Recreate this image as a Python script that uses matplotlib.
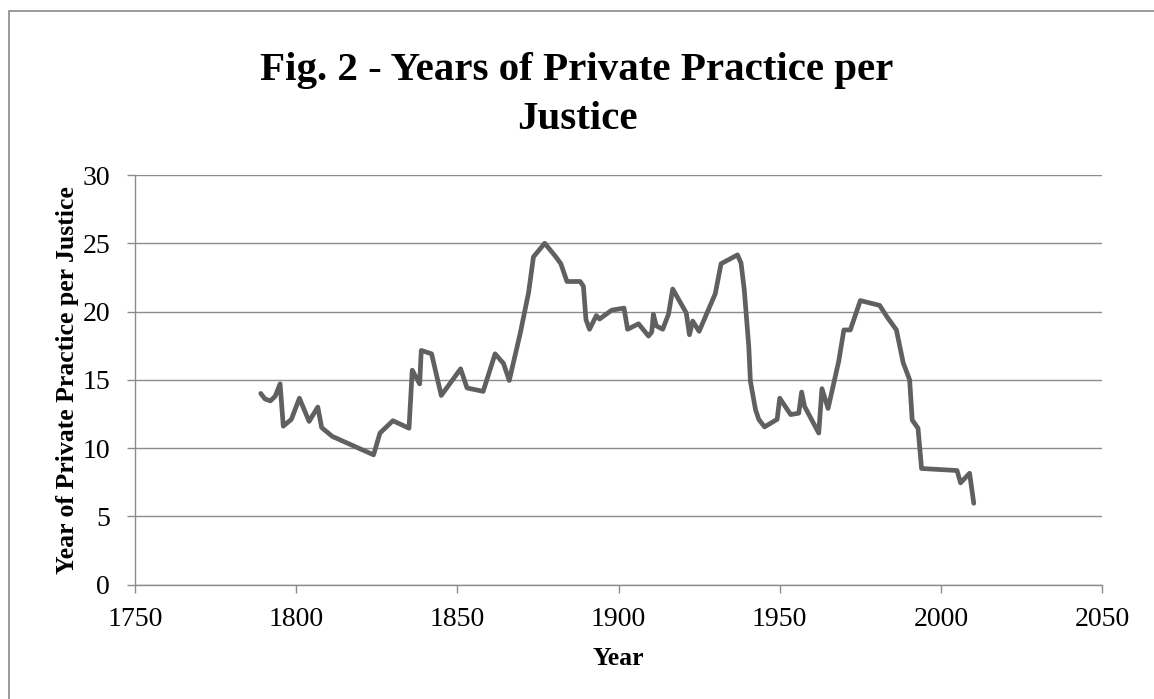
import matplotlib.pyplot as plt
from matplotlib.patches import Rectangle

years = [1789, 1790.3, 1792, 1793.5, 1795, 1796, 1798.5, 1801, 1804, 1806.7,
         1807.9, 1811.2, 1824, 1826, 1830, 1835, 1836, 1838.3, 1838.8, 1842,
         1845, 1851, 1853, 1858, 1861.7, 1864.3, 1866.1, 1869.5, 1872.1, 1873.6,
         1877.1, 1880.4, 1882.1, 1884, 1888.1, 1889.1, 1889.9, 1891, 1893.1, 1894.1,
         1897.9, 1901.7, 1902.8, 1906.2, 1909.3, 1910.3, 1910.8, 1911.7, 1913.7, 1915.5,
         1916.8, 1921, 1922, 1923, 1925, 1930, 1931.8, 1936.9, 1938, 1939,
         1940.4, 1940.9, 1942.5, 1943.5, 1945.3, 1949.2, 1950, 1953.4, 1955.9, 1956.8,
         1957.7, 1962.1, 1963.1, 1965, 1968.3, 1969.9, 1971.9, 1975, 1981, 1983.3,
         1986.2, 1988.3, 1990.3, 1991.1, 1992.9, 1994, 2005, 2006.1, 2008.9, 2010.2]
practice = [14.0, 13.6, 13.45, 13.8, 14.7, 11.6, 12.1, 13.65, 11.95, 13.0,
            11.5, 10.85, 9.5, 11.1, 12.0, 11.45, 15.7, 14.7, 17.15, 16.9,
            13.85, 15.8, 14.4, 14.15, 16.9, 16.2, 14.95, 18.4, 21.4, 24.0,
            25.0, 24.05, 23.5, 22.2, 22.2, 21.85, 19.4, 18.7, 19.7, 19.45,
            20.1, 20.25, 18.7, 19.1, 18.2, 18.5, 19.8, 18.95, 18.7, 19.8,
            21.65, 19.9, 18.3, 19.3, 18.55, 21.3, 23.5, 24.15, 23.55, 21.6,
            17.45, 14.9, 12.8, 12.1, 11.55, 12.1, 13.65, 12.45, 12.55, 14.1,
            13.05, 11.1, 14.35, 12.9, 16.35, 18.65, 18.65, 20.8, 20.45, 19.6,
            18.65, 16.25, 15.0, 12.05, 11.45, 8.5, 8.35, 7.45, 8.15, 5.95]

plt.rcParams['font.family'] = ['Liberation Serif', 'DejaVu Serif']

fig = plt.figure(figsize=(11.54, 6.99), dpi=100)
ax = fig.add_axes([0.117, 0.1638, 0.838, 0.5858])

# chart frame (cut off on the right and bottom in the original)
fig.patches.append(Rectangle((9/1154, -0.1), 1.2, 1.1 - 11/699, transform=fig.transFigure,
                             fill=False, edgecolor='#8a8a8a', linewidth=1.2))

ax.plot(years, practice, color='#606060', linewidth=3.4, solid_joinstyle='round',
        solid_capstyle='round', zorder=3)

ax.set_xlim(1750, 2050)
ax.set_ylim(0, 30)
ax.set_xticks(range(1750, 2051, 50))
ax.set_yticks(range(0, 31, 5))
ax.yaxis.grid(True, color='#8c8c8c', linewidth=1.0)
ax.set_axisbelow(True)
for s in ['top', 'right']:
    ax.spines[s].set_visible(False)
for s in ['left', 'bottom']:
    ax.spines[s].set_color('#8c8c8c')
    ax.spines[s].set_linewidth(1.0)
ax.tick_params(direction='out', length=6, width=1.0, color='#8c8c8c', labelsize=20)
ax.tick_params(axis='x', pad=10)
ax.tick_params(axis='y', pad=12)

ax.set_xlabel('Year', fontsize=18.5, fontweight='bold', labelpad=11)
ax.set_ylabel('Year of Private Practice per Justice', fontsize=18.5, fontweight='bold', labelpad=2)

fig.text(0.5, 1 - 95/699, 'Fig. 2 - Years of Private Practice per\nJustice', ha='center', va='center',
         fontsize=29.5, fontweight='bold', linespacing=1.45)

fig.savefig('out.png', dpi=100)
